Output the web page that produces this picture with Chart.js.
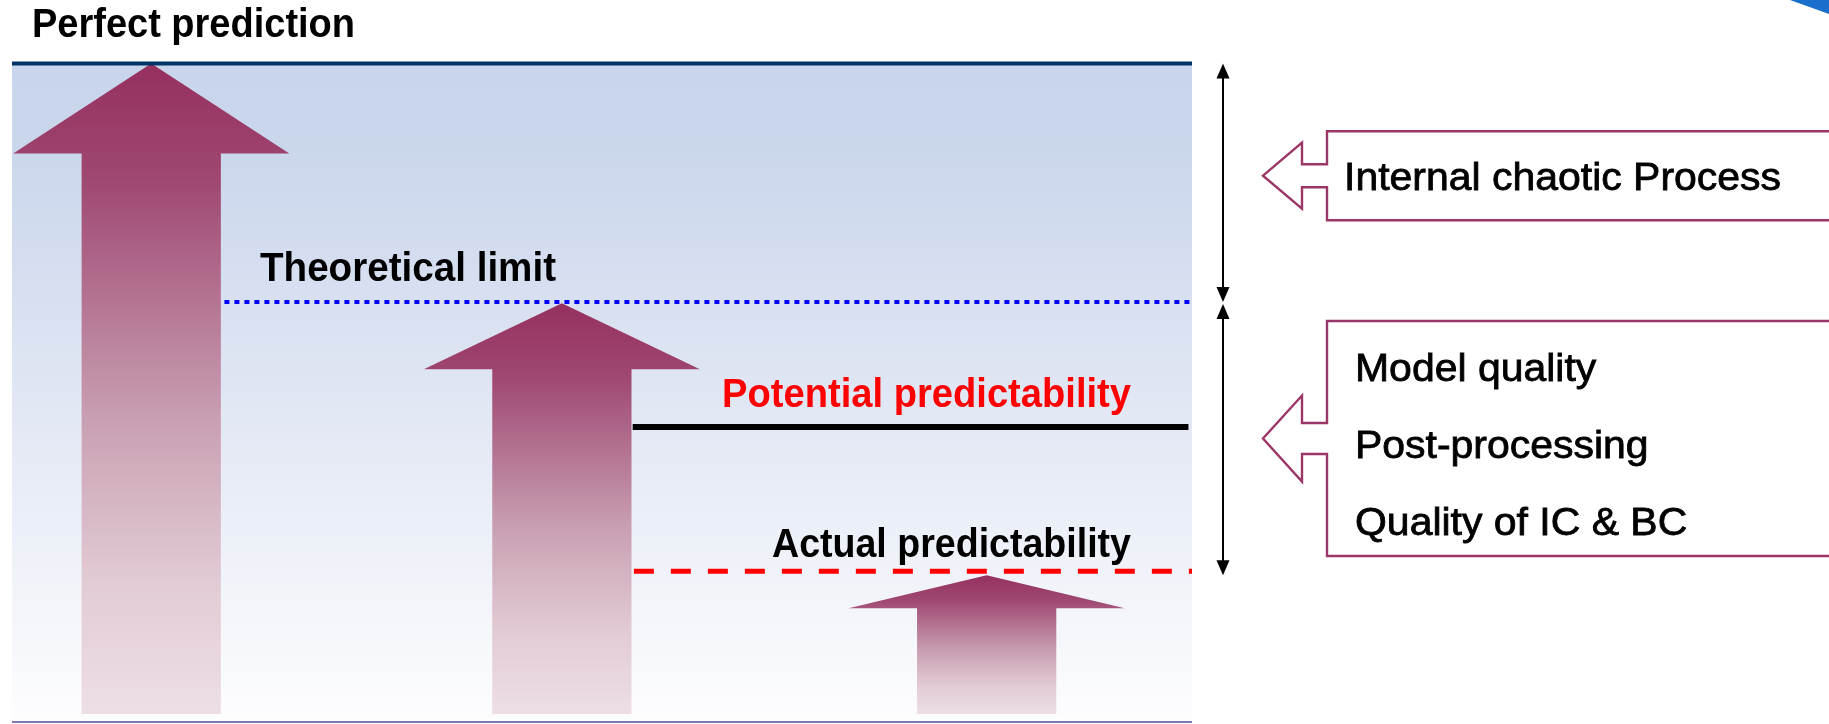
<!DOCTYPE html>
<html>
<head>
<meta charset="utf-8">
<script src="https://cdn.jsdelivr.net/npm/chart.js@4/dist/chart.umd.min.js"></script>
<style>
  html, body { margin: 0; padding: 0; background: #ffffff; overflow: hidden; }
  canvas { display: block; }
</style>
</head>
<body>
<canvas id="chart" width="1829" height="724"></canvas>
<script>
// Predictability levels on a 0 (no skill) .. 100 (perfect) scale
const levelNames  = ['Perfect prediction', 'Theoretical limit', 'Potential predictability', 'Actual predictability'];
const levelValues = [100, 63.8, 44.8, 22.9];

// Upward arrows: position along the panel, where each starts and the level it reaches
const arrowX    = [11.8, 46.6, 82.6];
const arrowBase = [1.2, 1.2, 1.2];
const arrowTop  = [100, 63.6, 22.3];

// Factors that explain each gap between levels
const chaosFactors = ['Internal chaotic Process'];
const modelFactors = ['Model quality', 'Post-processing', 'Quality of IC & BC'];

// ---- styling ----
const SHAFT_HALF = 5.9;          // x units
const HEAD_HALF  = 11.7;         // x units
const HEAD_DEPTH = [90, 66, 33]; // px
const MAGENTA = '#9b3766';

const levelStyle = [
  { color: '#003366', width: 4, dash: [],       from: () => 0,                             to: 100 },
  { color: '#0000ff', width: 4, dash: [5, 5],   from: () => arrowX[0] + SHAFT_HALF + 0.3, to: 100 },
  { color: '#000000', width: 6, dash: [],       from: () => arrowX[1] + SHAFT_HALF + 0.1, to: 99.7 },
  { color: '#ff0000', width: 5, dash: [20, 17], from: () => arrowX[1] + SHAFT_HALF + 0.2, to: 100 }
];
const levelLabelStyle = [
  { left: 32,  rise: 26.5, width: 323, color: '#000000' },
  { left: 260, rise: 21,   width: 296, color: '#000000' },
  { left: 722, rise: 20,   width: 409, color: '#ff0000' },
  { left: 772, rise: 14,   width: 359, color: '#000000' }
];

const datasets = levelValues.map((v, i) => ({
  label: levelNames[i],
  data: [{ x: levelStyle[i].from(), y: v }, { x: levelStyle[i].to, y: v }],
  borderColor: levelStyle[i].color,
  borderWidth: levelStyle[i].width,
  borderDash: levelStyle[i].dash,
  borderCapStyle: 'butt',
  pointRadius: 0,
  tension: 0,
  fill: false,
  clip: false
}));

// Panel background, base line and the corner swoosh
const panelBackground = {
  id: 'panelBackground',
  beforeDraw(chart) {
    const { ctx, chartArea: a } = chart;
    ctx.save();
    const g = ctx.createLinearGradient(0, a.top, 0, a.bottom);
    g.addColorStop(0, '#c9d5ec');
    g.addColorStop(0.12, '#cad6ec');
    g.addColorStop(0.5, '#e0e6f3');
    g.addColorStop(1, '#fdfdfe');
    ctx.fillStyle = g;
    ctx.fillRect(a.left, a.top, a.right - a.left, a.bottom - a.top);
    ctx.strokeStyle = '#7a7ab6';
    ctx.lineWidth = 2;
    ctx.beginPath();
    ctx.moveTo(a.left, a.bottom);
    ctx.lineTo(a.right, a.bottom);
    ctx.stroke();
    ctx.fillStyle = '#1b6fcc';
    ctx.beginPath();
    ctx.moveTo(chart.width - 39, 0);
    ctx.lineTo(chart.width, 0);
    ctx.lineTo(chart.width, 14);
    ctx.closePath();
    ctx.fill();
    ctx.restore();
  }
};

// Block arrows rising from the base to the level they reach
const upArrows = {
  id: 'upArrows',
  beforeDatasetsDraw(chart) {
    const { ctx, scales: { x, y } } = chart;
    ctx.save();
    arrowX.forEach((cx, i) => {
      const xc = x.getPixelForValue(cx);
      const sh = x.getPixelForValue(cx + SHAFT_HALF) - xc;
      const hh = x.getPixelForValue(cx + HEAD_HALF) - xc;
      const yt = y.getPixelForValue(arrowTop[i]);
      const yb = y.getPixelForValue(arrowBase[i]);
      const yh = yt + HEAD_DEPTH[i];
      const g = ctx.createLinearGradient(0, yt, 0, yb);
      g.addColorStop(0, '#96305f');
      g.addColorStop(0.18, '#9f4871');
      g.addColorStop(0.55, '#c9a0b3');
      g.addColorStop(0.8, '#e2cbd5');
      g.addColorStop(1, '#eddee5');
      ctx.fillStyle = g;
      ctx.beginPath();
      ctx.moveTo(xc, yt);
      ctx.lineTo(xc + hh, yh);
      ctx.lineTo(xc + sh, yh);
      ctx.lineTo(xc + sh, yb);
      ctx.lineTo(xc - sh, yb);
      ctx.lineTo(xc - sh, yh);
      ctx.lineTo(xc - hh, yh);
      ctx.closePath();
      ctx.fill();
    });
    ctx.restore();
  }
};

function fitText(ctx, text, left, baseline, width, weight) {
  const w = ctx.measureText(text).width;
  ctx.save();
  ctx.translate(left, baseline);
  ctx.scale(width ? width / w : 1, 1);
  ctx.fillText(text, 0, 0);
  if (weight) {
    ctx.lineWidth = weight;
    ctx.strokeStyle = ctx.fillStyle;
    ctx.strokeText(text, 0, 0);
  }
  ctx.restore();
}

// Level captions, range arrows and the explanatory callouts
const annotations = {
  id: 'annotations',
  afterDatasetsDraw(chart) {
    const { ctx, chartArea: a, scales: { y } } = chart;
    ctx.save();
    ctx.textBaseline = 'alphabetic';
    ctx.textAlign = 'left';

    ctx.font = 'bold 40px "Liberation Sans", Arial, sans-serif';
    levelValues.forEach((v, i) => {
      const s = levelLabelStyle[i];
      ctx.fillStyle = s.color;
      fitText(ctx, levelNames[i], s.left, y.getPixelForValue(v) - s.rise, s.width);
    });

    // double-headed range arrows
    const ax = a.right + 31;
    const ranges = [[0, 1], [1, 3]];
    ctx.strokeStyle = '#000';
    ctx.fillStyle = '#000';
    ctx.lineWidth = 2;
    const ends = ranges.map(([p, q], k) => [y.getPixelForValue(levelValues[p]) + (k ? 2 : 0),
                                            y.getPixelForValue(levelValues[q]) + (k ? 4 : 0)]);
    ends.forEach(([t, b]) => {
      ctx.beginPath();
      ctx.moveTo(ax, t + 12);
      ctx.lineTo(ax, b - 12);
      ctx.stroke();
      ctx.beginPath();
      ctx.moveTo(ax, t); ctx.lineTo(ax + 6.5, t + 15); ctx.lineTo(ax - 6.5, t + 15); ctx.closePath(); ctx.fill();
      ctx.beginPath();
      ctx.moveTo(ax, b); ctx.lineTo(ax + 6.5, b - 15); ctx.lineTo(ax - 6.5, b - 15); ctx.closePath(); ctx.fill();
    });

    // callouts pointing back at each range
    const callouts = [
      { items: chaosFactors, shift: -7, half: 44.5, neck: 11.5, head: 33, textLeft: 17, lines: [14.5] },
      { items: modelFactors, shift: -1, half: 117.5, neck: 15.5, head: 43, textLeft: 28, lines: [-57.5, 19.5, 96.5] }
    ];
    const boxLeft = ax + 104, backX = ax + 79, tipX = ax + 40;
    callouts.forEach((c, k) => {
      const cy = (ends[k][0] + ends[k][1]) / 2 + c.shift;
      ctx.beginPath();
      ctx.moveTo(chart.width + 10, cy - c.half);
      ctx.lineTo(boxLeft, cy - c.half);
      ctx.lineTo(boxLeft, cy - c.neck);
      ctx.lineTo(backX, cy - c.neck);
      ctx.lineTo(backX, cy - c.head);
      ctx.lineTo(tipX, cy);
      ctx.lineTo(backX, cy + c.head);
      ctx.lineTo(backX, cy + c.neck);
      ctx.lineTo(boxLeft, cy + c.neck);
      ctx.lineTo(boxLeft, cy + c.half);
      ctx.lineTo(chart.width + 10, cy + c.half);
      ctx.fillStyle = '#ffffff';
      ctx.fill();
      ctx.strokeStyle = MAGENTA;
      ctx.lineWidth = 2.4;
      ctx.stroke();
      ctx.fillStyle = '#000';
      ctx.font = '39px "Liberation Sans", Arial, sans-serif';
      c.items.forEach((t, j) => {
        const w = ctx.measureText(t).width;
        fitText(ctx, t, boxLeft + c.textLeft, cy + c.lines[j], w * 1.05, 0.8);
      });
    });
    ctx.restore();
  }
};

new Chart(document.getElementById('chart'), {
  type: 'line',
  data: { datasets },
  options: {
    responsive: false,
    animation: false,
    events: [],
    layout: { padding: { left: 12, right: 637, top: 63.5, bottom: 2 } },
    scales: {
      x: { type: 'linear', min: 0, max: 100, display: false },
      y: { type: 'linear', min: 0, max: 100, display: false }
    },
    plugins: { legend: { display: false }, tooltip: { enabled: false } }
  },
  plugins: [panelBackground, upArrows, annotations]
});
</script>
</body>
</html>
